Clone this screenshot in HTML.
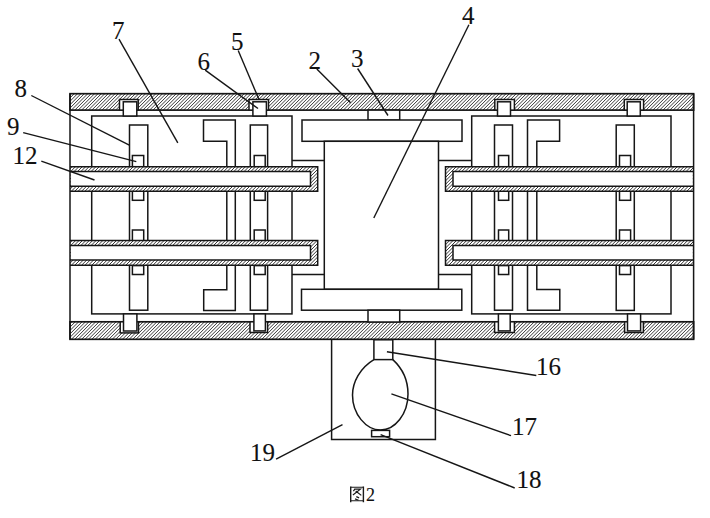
<!DOCTYPE html>
<html><head><meta charset="utf-8">
<style>
html,body{margin:0;padding:0;background:#fff;width:710px;height:518px;overflow:hidden}
svg{display:block}
text{font-family:"Liberation Serif",serif;fill:#111;stroke:#111;stroke-width:0.1px}
</style></head>
<body>
<svg width="710" height="518" viewBox="0 0 710 518">
<defs>
<clipPath id="cw"><rect x="70" y="93.7" width="623.6" height="16.4"/><rect x="70" y="321.8" width="623.6" height="17.5"/></clipPath>
<clipPath id="cp"><rect x="70" y="166.7" width="247.7" height="24.50"/><rect x="445.5" y="166.7" width="247.5" height="24.50"/><rect x="70" y="240.4" width="247.7" height="24.80"/><rect x="445.5" y="240.4" width="247.5" height="24.80"/></clipPath></defs><rect width="710" height="518" fill="#fff"/><g clip-path="url(#cw)"><rect x="70" y="93" width="623" height="250" fill="#fff"/><path stroke="#151515" stroke-width="0.85" fill="none" d="M51.00 110.10L67.40 93.70M54.40 110.10L70.80 93.70M57.80 110.10L74.20 93.70M61.20 110.10L77.60 93.70M64.60 110.10L81.00 93.70M68.00 110.10L84.40 93.70M71.40 110.10L87.80 93.70M74.80 110.10L91.20 93.70M78.20 110.10L94.60 93.70M81.60 110.10L98.00 93.70M85.00 110.10L101.40 93.70M88.40 110.10L104.80 93.70M91.80 110.10L108.20 93.70M95.20 110.10L111.60 93.70M98.60 110.10L115.00 93.70M102.00 110.10L118.40 93.70M105.40 110.10L121.80 93.70M108.80 110.10L125.20 93.70M112.20 110.10L128.60 93.70M115.60 110.10L132.00 93.70M119.00 110.10L135.40 93.70M122.40 110.10L138.80 93.70M125.80 110.10L142.20 93.70M129.20 110.10L145.60 93.70M132.60 110.10L149.00 93.70M136.00 110.10L152.40 93.70M139.40 110.10L155.80 93.70M142.80 110.10L159.20 93.70M146.20 110.10L162.60 93.70M149.60 110.10L166.00 93.70M153.00 110.10L169.40 93.70M156.40 110.10L172.80 93.70M159.80 110.10L176.20 93.70M163.20 110.10L179.60 93.70M166.60 110.10L183.00 93.70M170.00 110.10L186.40 93.70M173.40 110.10L189.80 93.70M176.80 110.10L193.20 93.70M180.20 110.10L196.60 93.70M183.60 110.10L200.00 93.70M187.00 110.10L203.40 93.70M190.40 110.10L206.80 93.70M193.80 110.10L210.20 93.70M197.20 110.10L213.60 93.70M200.60 110.10L217.00 93.70M204.00 110.10L220.40 93.70M207.40 110.10L223.80 93.70M210.80 110.10L227.20 93.70M214.20 110.10L230.60 93.70M217.60 110.10L234.00 93.70M221.00 110.10L237.40 93.70M224.40 110.10L240.80 93.70M227.80 110.10L244.20 93.70M231.20 110.10L247.60 93.70M234.60 110.10L251.00 93.70M238.00 110.10L254.40 93.70M241.40 110.10L257.80 93.70M244.80 110.10L261.20 93.70M248.20 110.10L264.60 93.70M251.60 110.10L268.00 93.70M255.00 110.10L271.40 93.70M258.40 110.10L274.80 93.70M261.80 110.10L278.20 93.70M265.20 110.10L281.60 93.70M268.60 110.10L285.00 93.70M272.00 110.10L288.40 93.70M275.40 110.10L291.80 93.70M278.80 110.10L295.20 93.70M282.20 110.10L298.60 93.70M285.60 110.10L302.00 93.70M289.00 110.10L305.40 93.70M292.40 110.10L308.80 93.70M295.80 110.10L312.20 93.70M299.20 110.10L315.60 93.70M302.60 110.10L319.00 93.70M306.00 110.10L322.40 93.70M309.40 110.10L325.80 93.70M312.80 110.10L329.20 93.70M316.20 110.10L332.60 93.70M319.60 110.10L336.00 93.70M323.00 110.10L339.40 93.70M326.40 110.10L342.80 93.70M329.80 110.10L346.20 93.70M333.20 110.10L349.60 93.70M336.60 110.10L353.00 93.70M340.00 110.10L356.40 93.70M343.40 110.10L359.80 93.70M346.80 110.10L363.20 93.70M350.20 110.10L366.60 93.70M353.60 110.10L370.00 93.70M357.00 110.10L373.40 93.70M360.40 110.10L376.80 93.70M363.80 110.10L380.20 93.70M367.20 110.10L383.60 93.70M370.60 110.10L387.00 93.70M374.00 110.10L390.40 93.70M377.40 110.10L393.80 93.70M380.80 110.10L397.20 93.70M384.20 110.10L400.60 93.70M387.60 110.10L404.00 93.70M391.00 110.10L407.40 93.70M394.40 110.10L410.80 93.70M397.80 110.10L414.20 93.70M401.20 110.10L417.60 93.70M404.60 110.10L421.00 93.70M408.00 110.10L424.40 93.70M411.40 110.10L427.80 93.70M414.80 110.10L431.20 93.70M418.20 110.10L434.60 93.70M421.60 110.10L438.00 93.70M425.00 110.10L441.40 93.70M428.40 110.10L444.80 93.70M431.80 110.10L448.20 93.70M435.20 110.10L451.60 93.70M438.60 110.10L455.00 93.70M442.00 110.10L458.40 93.70M445.40 110.10L461.80 93.70M448.80 110.10L465.20 93.70M452.20 110.10L468.60 93.70M455.60 110.10L472.00 93.70M459.00 110.10L475.40 93.70M462.40 110.10L478.80 93.70M465.80 110.10L482.20 93.70M469.20 110.10L485.60 93.70M472.60 110.10L489.00 93.70M476.00 110.10L492.40 93.70M479.40 110.10L495.80 93.70M482.80 110.10L499.20 93.70M486.20 110.10L502.60 93.70M489.60 110.10L506.00 93.70M493.00 110.10L509.40 93.70M496.40 110.10L512.80 93.70M499.80 110.10L516.20 93.70M503.20 110.10L519.60 93.70M506.60 110.10L523.00 93.70M510.00 110.10L526.40 93.70M513.40 110.10L529.80 93.70M516.80 110.10L533.20 93.70M520.20 110.10L536.60 93.70M523.60 110.10L540.00 93.70M527.00 110.10L543.40 93.70M530.40 110.10L546.80 93.70M533.80 110.10L550.20 93.70M537.20 110.10L553.60 93.70M540.60 110.10L557.00 93.70M544.00 110.10L560.40 93.70M547.40 110.10L563.80 93.70M550.80 110.10L567.20 93.70M554.20 110.10L570.60 93.70M557.60 110.10L574.00 93.70M561.00 110.10L577.40 93.70M564.40 110.10L580.80 93.70M567.80 110.10L584.20 93.70M571.20 110.10L587.60 93.70M574.60 110.10L591.00 93.70M578.00 110.10L594.40 93.70M581.40 110.10L597.80 93.70M584.80 110.10L601.20 93.70M588.20 110.10L604.60 93.70M591.60 110.10L608.00 93.70M595.00 110.10L611.40 93.70M598.40 110.10L614.80 93.70M601.80 110.10L618.20 93.70M605.20 110.10L621.60 93.70M608.60 110.10L625.00 93.70M612.00 110.10L628.40 93.70M615.40 110.10L631.80 93.70M618.80 110.10L635.20 93.70M622.20 110.10L638.60 93.70M625.60 110.10L642.00 93.70M629.00 110.10L645.40 93.70M632.40 110.10L648.80 93.70M635.80 110.10L652.20 93.70M639.20 110.10L655.60 93.70M642.60 110.10L659.00 93.70M646.00 110.10L662.40 93.70M649.40 110.10L665.80 93.70M652.80 110.10L669.20 93.70M656.20 110.10L672.60 93.70M659.60 110.10L676.00 93.70M663.00 110.10L679.40 93.70M666.40 110.10L682.80 93.70M669.80 110.10L686.20 93.70M673.20 110.10L689.60 93.70M676.60 110.10L693.00 93.70M680.00 110.10L696.40 93.70M683.40 110.10L699.80 93.70M686.80 110.10L703.20 93.70M690.20 110.10L706.60 93.70M693.60 110.10L710.00 93.70M51.00 339.30L68.50 321.80M54.40 339.30L71.90 321.80M57.80 339.30L75.30 321.80M61.20 339.30L78.70 321.80M64.60 339.30L82.10 321.80M68.00 339.30L85.50 321.80M71.40 339.30L88.90 321.80M74.80 339.30L92.30 321.80M78.20 339.30L95.70 321.80M81.60 339.30L99.10 321.80M85.00 339.30L102.50 321.80M88.40 339.30L105.90 321.80M91.80 339.30L109.30 321.80M95.20 339.30L112.70 321.80M98.60 339.30L116.10 321.80M102.00 339.30L119.50 321.80M105.40 339.30L122.90 321.80M108.80 339.30L126.30 321.80M112.20 339.30L129.70 321.80M115.60 339.30L133.10 321.80M119.00 339.30L136.50 321.80M122.40 339.30L139.90 321.80M125.80 339.30L143.30 321.80M129.20 339.30L146.70 321.80M132.60 339.30L150.10 321.80M136.00 339.30L153.50 321.80M139.40 339.30L156.90 321.80M142.80 339.30L160.30 321.80M146.20 339.30L163.70 321.80M149.60 339.30L167.10 321.80M153.00 339.30L170.50 321.80M156.40 339.30L173.90 321.80M159.80 339.30L177.30 321.80M163.20 339.30L180.70 321.80M166.60 339.30L184.10 321.80M170.00 339.30L187.50 321.80M173.40 339.30L190.90 321.80M176.80 339.30L194.30 321.80M180.20 339.30L197.70 321.80M183.60 339.30L201.10 321.80M187.00 339.30L204.50 321.80M190.40 339.30L207.90 321.80M193.80 339.30L211.30 321.80M197.20 339.30L214.70 321.80M200.60 339.30L218.10 321.80M204.00 339.30L221.50 321.80M207.40 339.30L224.90 321.80M210.80 339.30L228.30 321.80M214.20 339.30L231.70 321.80M217.60 339.30L235.10 321.80M221.00 339.30L238.50 321.80M224.40 339.30L241.90 321.80M227.80 339.30L245.30 321.80M231.20 339.30L248.70 321.80M234.60 339.30L252.10 321.80M238.00 339.30L255.50 321.80M241.40 339.30L258.90 321.80M244.80 339.30L262.30 321.80M248.20 339.30L265.70 321.80M251.60 339.30L269.10 321.80M255.00 339.30L272.50 321.80M258.40 339.30L275.90 321.80M261.80 339.30L279.30 321.80M265.20 339.30L282.70 321.80M268.60 339.30L286.10 321.80M272.00 339.30L289.50 321.80M275.40 339.30L292.90 321.80M278.80 339.30L296.30 321.80M282.20 339.30L299.70 321.80M285.60 339.30L303.10 321.80M289.00 339.30L306.50 321.80M292.40 339.30L309.90 321.80M295.80 339.30L313.30 321.80M299.20 339.30L316.70 321.80M302.60 339.30L320.10 321.80M306.00 339.30L323.50 321.80M309.40 339.30L326.90 321.80M312.80 339.30L330.30 321.80M316.20 339.30L333.70 321.80M319.60 339.30L337.10 321.80M323.00 339.30L340.50 321.80M326.40 339.30L343.90 321.80M329.80 339.30L347.30 321.80M333.20 339.30L350.70 321.80M336.60 339.30L354.10 321.80M340.00 339.30L357.50 321.80M343.40 339.30L360.90 321.80M346.80 339.30L364.30 321.80M350.20 339.30L367.70 321.80M353.60 339.30L371.10 321.80M357.00 339.30L374.50 321.80M360.40 339.30L377.90 321.80M363.80 339.30L381.30 321.80M367.20 339.30L384.70 321.80M370.60 339.30L388.10 321.80M374.00 339.30L391.50 321.80M377.40 339.30L394.90 321.80M380.80 339.30L398.30 321.80M384.20 339.30L401.70 321.80M387.60 339.30L405.10 321.80M391.00 339.30L408.50 321.80M394.40 339.30L411.90 321.80M397.80 339.30L415.30 321.80M401.20 339.30L418.70 321.80M404.60 339.30L422.10 321.80M408.00 339.30L425.50 321.80M411.40 339.30L428.90 321.80M414.80 339.30L432.30 321.80M418.20 339.30L435.70 321.80M421.60 339.30L439.10 321.80M425.00 339.30L442.50 321.80M428.40 339.30L445.90 321.80M431.80 339.30L449.30 321.80M435.20 339.30L452.70 321.80M438.60 339.30L456.10 321.80M442.00 339.30L459.50 321.80M445.40 339.30L462.90 321.80M448.80 339.30L466.30 321.80M452.20 339.30L469.70 321.80M455.60 339.30L473.10 321.80M459.00 339.30L476.50 321.80M462.40 339.30L479.90 321.80M465.80 339.30L483.30 321.80M469.20 339.30L486.70 321.80M472.60 339.30L490.10 321.80M476.00 339.30L493.50 321.80M479.40 339.30L496.90 321.80M482.80 339.30L500.30 321.80M486.20 339.30L503.70 321.80M489.60 339.30L507.10 321.80M493.00 339.30L510.50 321.80M496.40 339.30L513.90 321.80M499.80 339.30L517.30 321.80M503.20 339.30L520.70 321.80M506.60 339.30L524.10 321.80M510.00 339.30L527.50 321.80M513.40 339.30L530.90 321.80M516.80 339.30L534.30 321.80M520.20 339.30L537.70 321.80M523.60 339.30L541.10 321.80M527.00 339.30L544.50 321.80M530.40 339.30L547.90 321.80M533.80 339.30L551.30 321.80M537.20 339.30L554.70 321.80M540.60 339.30L558.10 321.80M544.00 339.30L561.50 321.80M547.40 339.30L564.90 321.80M550.80 339.30L568.30 321.80M554.20 339.30L571.70 321.80M557.60 339.30L575.10 321.80M561.00 339.30L578.50 321.80M564.40 339.30L581.90 321.80M567.80 339.30L585.30 321.80M571.20 339.30L588.70 321.80M574.60 339.30L592.10 321.80M578.00 339.30L595.50 321.80M581.40 339.30L598.90 321.80M584.80 339.30L602.30 321.80M588.20 339.30L605.70 321.80M591.60 339.30L609.10 321.80M595.00 339.30L612.50 321.80M598.40 339.30L615.90 321.80M601.80 339.30L619.30 321.80M605.20 339.30L622.70 321.80M608.60 339.30L626.10 321.80M612.00 339.30L629.50 321.80M615.40 339.30L632.90 321.80M618.80 339.30L636.30 321.80M622.20 339.30L639.70 321.80M625.60 339.30L643.10 321.80M629.00 339.30L646.50 321.80M632.40 339.30L649.90 321.80M635.80 339.30L653.30 321.80M639.20 339.30L656.70 321.80M642.60 339.30L660.10 321.80M646.00 339.30L663.50 321.80M649.40 339.30L666.90 321.80M652.80 339.30L670.30 321.80M656.20 339.30L673.70 321.80M659.60 339.30L677.10 321.80M663.00 339.30L680.50 321.80M666.40 339.30L683.90 321.80M669.80 339.30L687.30 321.80M673.20 339.30L690.70 321.80M676.60 339.30L694.10 321.80M680.00 339.30L697.50 321.80M683.40 339.30L700.90 321.80M686.80 339.30L704.30 321.80M690.20 339.30L707.70 321.80M693.60 339.30L711.10 321.80"/></g><g fill="#fff" stroke="#161616" stroke-width="1.5"><rect x="70" y="93.7" width="623.6" height="16.4" fill="none" stroke-width="1.7"/>
<rect x="70" y="321.8" width="623.6" height="17.5" fill="none" stroke-width="1.7"/>
<rect x="91.7" y="116" width="200.3" height="197.9"/>
<rect x="471.7" y="116" width="199.3" height="197.9"/>
<line x1="292" y1="160.6" x2="324.3" y2="160.6"/>
<line x1="292" y1="274.6" x2="324.3" y2="274.6"/>
<line x1="438.5" y1="160.6" x2="471.7" y2="160.6"/>
<line x1="438.5" y1="274.4" x2="471.7" y2="274.4"/>
<rect x="368" y="110.1" width="31.7" height="10"/>
<rect x="302" y="120" width="160" height="21.3"/>
<rect x="324.3" y="141.3" width="114.2" height="148"/>
<rect x="301.5" y="289.3" width="160.3" height="20.9"/>
<rect x="368" y="310.2" width="31.7" height="11.8"/>
<polygon points="203.5,120 235.3,120 235.3,310.5 203.7,310.5 203.7,289.8 226.8,289.8 226.8,141.3 203.5,141.3"/>
<polygon points="527.5,120 559.6,120 559.6,141.3 536.8,141.3 536.8,289.5 559.8,289.5 559.8,310.2 527.5,310.2"/>
<rect x="129.5" y="125" width="18.3" height="185.2"/>
<rect x="250.3" y="125" width="17.3" height="185.2"/>
<rect x="494.5" y="125" width="18" height="185.2"/>
<rect x="616.2" y="125" width="18.1" height="185.4"/>
<rect x="132.4" y="155.5" width="11.3" height="11.2"/><rect x="132.4" y="191.2" width="11.3" height="9.1"/><rect x="132.4" y="230" width="11.3" height="10.8"/><rect x="132.4" y="265.6" width="11.3" height="8.9"/><rect x="254.2" y="155.5" width="11" height="11.2"/><rect x="254.2" y="191.2" width="11" height="9.1"/><rect x="254.2" y="230" width="11" height="10.8"/><rect x="254.2" y="265.6" width="11" height="8.9"/><rect x="498.5" y="155.5" width="10.2" height="11.2"/><rect x="498.5" y="191.2" width="10.2" height="9.1"/><rect x="498.5" y="230" width="10.2" height="10.8"/><rect x="498.5" y="265.6" width="10.2" height="8.9"/><rect x="619.5" y="155.5" width="11.1" height="11.2"/><rect x="619.5" y="191.2" width="11.1" height="9.1"/><rect x="619.5" y="230" width="11.1" height="10.8"/><rect x="619.5" y="265.6" width="11.1" height="8.9"/></g><g clip-path="url(#cp)"><rect x="70" y="160" width="623" height="110" fill="#fff"/><path stroke="#151515" stroke-width="0.85" fill="none" d="M44.20 191.20L68.70 166.70M47.60 191.20L72.10 166.70M51.00 191.20L75.50 166.70M54.40 191.20L78.90 166.70M57.80 191.20L82.30 166.70M61.20 191.20L85.70 166.70M64.60 191.20L89.10 166.70M68.00 191.20L92.50 166.70M71.40 191.20L95.90 166.70M74.80 191.20L99.30 166.70M78.20 191.20L102.70 166.70M81.60 191.20L106.10 166.70M85.00 191.20L109.50 166.70M88.40 191.20L112.90 166.70M91.80 191.20L116.30 166.70M95.20 191.20L119.70 166.70M98.60 191.20L123.10 166.70M102.00 191.20L126.50 166.70M105.40 191.20L129.90 166.70M108.80 191.20L133.30 166.70M112.20 191.20L136.70 166.70M115.60 191.20L140.10 166.70M119.00 191.20L143.50 166.70M122.40 191.20L146.90 166.70M125.80 191.20L150.30 166.70M129.20 191.20L153.70 166.70M132.60 191.20L157.10 166.70M136.00 191.20L160.50 166.70M139.40 191.20L163.90 166.70M142.80 191.20L167.30 166.70M146.20 191.20L170.70 166.70M149.60 191.20L174.10 166.70M153.00 191.20L177.50 166.70M156.40 191.20L180.90 166.70M159.80 191.20L184.30 166.70M163.20 191.20L187.70 166.70M166.60 191.20L191.10 166.70M170.00 191.20L194.50 166.70M173.40 191.20L197.90 166.70M176.80 191.20L201.30 166.70M180.20 191.20L204.70 166.70M183.60 191.20L208.10 166.70M187.00 191.20L211.50 166.70M190.40 191.20L214.90 166.70M193.80 191.20L218.30 166.70M197.20 191.20L221.70 166.70M200.60 191.20L225.10 166.70M204.00 191.20L228.50 166.70M207.40 191.20L231.90 166.70M210.80 191.20L235.30 166.70M214.20 191.20L238.70 166.70M217.60 191.20L242.10 166.70M221.00 191.20L245.50 166.70M224.40 191.20L248.90 166.70M227.80 191.20L252.30 166.70M231.20 191.20L255.70 166.70M234.60 191.20L259.10 166.70M238.00 191.20L262.50 166.70M241.40 191.20L265.90 166.70M244.80 191.20L269.30 166.70M248.20 191.20L272.70 166.70M251.60 191.20L276.10 166.70M255.00 191.20L279.50 166.70M258.40 191.20L282.90 166.70M261.80 191.20L286.30 166.70M265.20 191.20L289.70 166.70M268.60 191.20L293.10 166.70M272.00 191.20L296.50 166.70M275.40 191.20L299.90 166.70M278.80 191.20L303.30 166.70M282.20 191.20L306.70 166.70M285.60 191.20L310.10 166.70M289.00 191.20L313.50 166.70M292.40 191.20L316.90 166.70M295.80 191.20L320.30 166.70M299.20 191.20L323.70 166.70M302.60 191.20L327.10 166.70M306.00 191.20L330.50 166.70M309.40 191.20L333.90 166.70M312.80 191.20L337.30 166.70M316.20 191.20L340.70 166.70M418.20 191.20L442.70 166.70M421.60 191.20L446.10 166.70M425.00 191.20L449.50 166.70M428.40 191.20L452.90 166.70M431.80 191.20L456.30 166.70M435.20 191.20L459.70 166.70M438.60 191.20L463.10 166.70M442.00 191.20L466.50 166.70M445.40 191.20L469.90 166.70M448.80 191.20L473.30 166.70M452.20 191.20L476.70 166.70M455.60 191.20L480.10 166.70M459.00 191.20L483.50 166.70M462.40 191.20L486.90 166.70M465.80 191.20L490.30 166.70M469.20 191.20L493.70 166.70M472.60 191.20L497.10 166.70M476.00 191.20L500.50 166.70M479.40 191.20L503.90 166.70M482.80 191.20L507.30 166.70M486.20 191.20L510.70 166.70M489.60 191.20L514.10 166.70M493.00 191.20L517.50 166.70M496.40 191.20L520.90 166.70M499.80 191.20L524.30 166.70M503.20 191.20L527.70 166.70M506.60 191.20L531.10 166.70M510.00 191.20L534.50 166.70M513.40 191.20L537.90 166.70M516.80 191.20L541.30 166.70M520.20 191.20L544.70 166.70M523.60 191.20L548.10 166.70M527.00 191.20L551.50 166.70M530.40 191.20L554.90 166.70M533.80 191.20L558.30 166.70M537.20 191.20L561.70 166.70M540.60 191.20L565.10 166.70M544.00 191.20L568.50 166.70M547.40 191.20L571.90 166.70M550.80 191.20L575.30 166.70M554.20 191.20L578.70 166.70M557.60 191.20L582.10 166.70M561.00 191.20L585.50 166.70M564.40 191.20L588.90 166.70M567.80 191.20L592.30 166.70M571.20 191.20L595.70 166.70M574.60 191.20L599.10 166.70M578.00 191.20L602.50 166.70M581.40 191.20L605.90 166.70M584.80 191.20L609.30 166.70M588.20 191.20L612.70 166.70M591.60 191.20L616.10 166.70M595.00 191.20L619.50 166.70M598.40 191.20L622.90 166.70M601.80 191.20L626.30 166.70M605.20 191.20L629.70 166.70M608.60 191.20L633.10 166.70M612.00 191.20L636.50 166.70M615.40 191.20L639.90 166.70M618.80 191.20L643.30 166.70M622.20 191.20L646.70 166.70M625.60 191.20L650.10 166.70M629.00 191.20L653.50 166.70M632.40 191.20L656.90 166.70M635.80 191.20L660.30 166.70M639.20 191.20L663.70 166.70M642.60 191.20L667.10 166.70M646.00 191.20L670.50 166.70M649.40 191.20L673.90 166.70M652.80 191.20L677.30 166.70M656.20 191.20L680.70 166.70M659.60 191.20L684.10 166.70M663.00 191.20L687.50 166.70M666.40 191.20L690.90 166.70M669.80 191.20L694.30 166.70M673.20 191.20L697.70 166.70M676.60 191.20L701.10 166.70M680.00 191.20L704.50 166.70M683.40 191.20L707.90 166.70M686.80 191.20L711.30 166.70M690.20 191.20L714.70 166.70M44.20 265.20L69.00 240.40M47.60 265.20L72.40 240.40M51.00 265.20L75.80 240.40M54.40 265.20L79.20 240.40M57.80 265.20L82.60 240.40M61.20 265.20L86.00 240.40M64.60 265.20L89.40 240.40M68.00 265.20L92.80 240.40M71.40 265.20L96.20 240.40M74.80 265.20L99.60 240.40M78.20 265.20L103.00 240.40M81.60 265.20L106.40 240.40M85.00 265.20L109.80 240.40M88.40 265.20L113.20 240.40M91.80 265.20L116.60 240.40M95.20 265.20L120.00 240.40M98.60 265.20L123.40 240.40M102.00 265.20L126.80 240.40M105.40 265.20L130.20 240.40M108.80 265.20L133.60 240.40M112.20 265.20L137.00 240.40M115.60 265.20L140.40 240.40M119.00 265.20L143.80 240.40M122.40 265.20L147.20 240.40M125.80 265.20L150.60 240.40M129.20 265.20L154.00 240.40M132.60 265.20L157.40 240.40M136.00 265.20L160.80 240.40M139.40 265.20L164.20 240.40M142.80 265.20L167.60 240.40M146.20 265.20L171.00 240.40M149.60 265.20L174.40 240.40M153.00 265.20L177.80 240.40M156.40 265.20L181.20 240.40M159.80 265.20L184.60 240.40M163.20 265.20L188.00 240.40M166.60 265.20L191.40 240.40M170.00 265.20L194.80 240.40M173.40 265.20L198.20 240.40M176.80 265.20L201.60 240.40M180.20 265.20L205.00 240.40M183.60 265.20L208.40 240.40M187.00 265.20L211.80 240.40M190.40 265.20L215.20 240.40M193.80 265.20L218.60 240.40M197.20 265.20L222.00 240.40M200.60 265.20L225.40 240.40M204.00 265.20L228.80 240.40M207.40 265.20L232.20 240.40M210.80 265.20L235.60 240.40M214.20 265.20L239.00 240.40M217.60 265.20L242.40 240.40M221.00 265.20L245.80 240.40M224.40 265.20L249.20 240.40M227.80 265.20L252.60 240.40M231.20 265.20L256.00 240.40M234.60 265.20L259.40 240.40M238.00 265.20L262.80 240.40M241.40 265.20L266.20 240.40M244.80 265.20L269.60 240.40M248.20 265.20L273.00 240.40M251.60 265.20L276.40 240.40M255.00 265.20L279.80 240.40M258.40 265.20L283.20 240.40M261.80 265.20L286.60 240.40M265.20 265.20L290.00 240.40M268.60 265.20L293.40 240.40M272.00 265.20L296.80 240.40M275.40 265.20L300.20 240.40M278.80 265.20L303.60 240.40M282.20 265.20L307.00 240.40M285.60 265.20L310.40 240.40M289.00 265.20L313.80 240.40M292.40 265.20L317.20 240.40M295.80 265.20L320.60 240.40M299.20 265.20L324.00 240.40M302.60 265.20L327.40 240.40M306.00 265.20L330.80 240.40M309.40 265.20L334.20 240.40M312.80 265.20L337.60 240.40M316.20 265.20L341.00 240.40M418.20 265.20L443.00 240.40M421.60 265.20L446.40 240.40M425.00 265.20L449.80 240.40M428.40 265.20L453.20 240.40M431.80 265.20L456.60 240.40M435.20 265.20L460.00 240.40M438.60 265.20L463.40 240.40M442.00 265.20L466.80 240.40M445.40 265.20L470.20 240.40M448.80 265.20L473.60 240.40M452.20 265.20L477.00 240.40M455.60 265.20L480.40 240.40M459.00 265.20L483.80 240.40M462.40 265.20L487.20 240.40M465.80 265.20L490.60 240.40M469.20 265.20L494.00 240.40M472.60 265.20L497.40 240.40M476.00 265.20L500.80 240.40M479.40 265.20L504.20 240.40M482.80 265.20L507.60 240.40M486.20 265.20L511.00 240.40M489.60 265.20L514.40 240.40M493.00 265.20L517.80 240.40M496.40 265.20L521.20 240.40M499.80 265.20L524.60 240.40M503.20 265.20L528.00 240.40M506.60 265.20L531.40 240.40M510.00 265.20L534.80 240.40M513.40 265.20L538.20 240.40M516.80 265.20L541.60 240.40M520.20 265.20L545.00 240.40M523.60 265.20L548.40 240.40M527.00 265.20L551.80 240.40M530.40 265.20L555.20 240.40M533.80 265.20L558.60 240.40M537.20 265.20L562.00 240.40M540.60 265.20L565.40 240.40M544.00 265.20L568.80 240.40M547.40 265.20L572.20 240.40M550.80 265.20L575.60 240.40M554.20 265.20L579.00 240.40M557.60 265.20L582.40 240.40M561.00 265.20L585.80 240.40M564.40 265.20L589.20 240.40M567.80 265.20L592.60 240.40M571.20 265.20L596.00 240.40M574.60 265.20L599.40 240.40M578.00 265.20L602.80 240.40M581.40 265.20L606.20 240.40M584.80 265.20L609.60 240.40M588.20 265.20L613.00 240.40M591.60 265.20L616.40 240.40M595.00 265.20L619.80 240.40M598.40 265.20L623.20 240.40M601.80 265.20L626.60 240.40M605.20 265.20L630.00 240.40M608.60 265.20L633.40 240.40M612.00 265.20L636.80 240.40M615.40 265.20L640.20 240.40M618.80 265.20L643.60 240.40M622.20 265.20L647.00 240.40M625.60 265.20L650.40 240.40M629.00 265.20L653.80 240.40M632.40 265.20L657.20 240.40M635.80 265.20L660.60 240.40M639.20 265.20L664.00 240.40M642.60 265.20L667.40 240.40M646.00 265.20L670.80 240.40M649.40 265.20L674.20 240.40M652.80 265.20L677.60 240.40M656.20 265.20L681.00 240.40M659.60 265.20L684.40 240.40M663.00 265.20L687.80 240.40M666.40 265.20L691.20 240.40M669.80 265.20L694.60 240.40M673.20 265.20L698.00 240.40M676.60 265.20L701.40 240.40M680.00 265.20L704.80 240.40M683.40 265.20L708.20 240.40M686.80 265.20L711.60 240.40M690.20 265.20L715.00 240.40"/></g><g fill="#fff" stroke="#161616" stroke-width="1.5"><rect x="70.8" y="171.6" width="239.7" height="14.60" stroke="none"/><path fill="none" d="M70 171.6 H310.5 V186.2 H70"/><path fill="none" d="M70 166.7 H317.7 V191.2 H70"/><rect x="453" y="171.6" width="239.79999999999995" height="14.60" stroke="none"/><path fill="none" d="M693.6 171.6 H453 V186.2 H693.6"/><path fill="none" d="M693.6 166.7 H445.5 V191.2 H693.6"/><rect x="70.8" y="245.5" width="239.7" height="14.50" stroke="none"/><path fill="none" d="M70 245.5 H310.5 V260.0 H70"/><path fill="none" d="M70 240.4 H317.7 V265.2 H70"/><rect x="453" y="245.5" width="239.79999999999995" height="14.50" stroke="none"/><path fill="none" d="M693.6 245.5 H453 V260.0 H693.6"/><path fill="none" d="M693.6 240.4 H445.5 V265.2 H693.6"/>
<line x1="70" y1="93.7" x2="70" y2="339.3"/>
<line x1="693.6" y1="93.7" x2="693.6" y2="339.3"/>
<rect x="119.5" y="99.5" width="18.7" height="10.6"/>
<rect x="123.3" y="101.8" width="13.5" height="14.2"/>
<rect x="249" y="99.5" width="19.5" height="10.6"/>
<rect x="252.9" y="101.8" width="13.5" height="14.2"/>
<rect x="494.8" y="99.5" width="19.6" height="10.6"/>
<rect x="497.5" y="101.8" width="13" height="14.2"/>
<rect x="624.3" y="99.5" width="19.3" height="10.6"/>
<rect x="627.2" y="101.8" width="13.1" height="14.2"/>
<rect x="120.2" y="321.8" width="18.3" height="11.1"/>
<rect x="123.5" y="313.9" width="13.4" height="17.1"/>
<rect x="250" y="321.8" width="17.6" height="10.7"/>
<rect x="253.9" y="313.9" width="11.5" height="17"/>
<rect x="494.6" y="321.8" width="19.8" height="10.7"/>
<rect x="498.4" y="313.9" width="11.8" height="17"/>
<rect x="624.6" y="321.8" width="18.8" height="10.7"/>
<rect x="627.5" y="313.9" width="13.1" height="17"/>
<path fill="none" d="M331.6 339.8 V439.4 H435.4 V339.8"/>
<path fill="none" d="M373.9 359.6 C360 368 352.5 382 352.5 395 C352.5 414 366 430 380.5 430 C395 430 408 414 408 394 C408 380 402 368 392.8 359.6"/>
<rect x="373.9" y="339.8" width="18.9" height="19.8"/>
<rect x="371.6" y="430.4" width="18" height="6.3"/>
</g>
<g stroke="#161616" stroke-width="1.4" fill="none">
<line x1="31.3" y1="95.5" x2="129.3" y2="145.2"/>
<line x1="23.2" y1="132.6" x2="136.3" y2="161.6"/>
<line x1="41.3" y1="161.2" x2="94.5" y2="180"/>
<line x1="119" y1="39.2" x2="177.8" y2="142.9"/>
<line x1="205.2" y1="70.1" x2="258" y2="108.5"/>
<line x1="238.2" y1="50.6" x2="259" y2="99.5"/>
<line x1="316.8" y1="69" x2="350.6" y2="102.8"/>
<line x1="357.6" y1="68.5" x2="388" y2="115.5"/>
<line x1="468.9" y1="24.8" x2="373.8" y2="218"/>
<line x1="386.9" y1="351.8" x2="536.3" y2="375.5"/>
<line x1="391.4" y1="393.9" x2="511" y2="435.7"/>
<line x1="380.6" y1="434.6" x2="514.7" y2="488"/>
<line x1="276.1" y1="459.1" x2="342.5" y2="424.6"/>
</g>
<g font-size="25" transform="translate(0,-0.5)">
<text x="14.5" y="97.4">8</text>
<text x="7" y="135">9</text>
<text x="12.5" y="164">12</text>
<text x="112" y="39.2">7</text>
<text x="197.5" y="70.1">6</text>
<text x="231" y="50.1">5</text>
<text x="308.5" y="69">2</text>
<text x="351" y="67.6">3</text>
<text x="462" y="24">4</text>
<text x="536" y="375.5">16</text>
<text x="512" y="435.7">17</text>
<text x="516.5" y="488.1">18</text>
<text x="250" y="461.4">19</text>
</g>
<g stroke="#1a1a1a" stroke-width="1.2" fill="none">
<path d="M350.7 486.6 V502.3 M363.4 486.6 V502.3" stroke-width="1.4"/>
<path d="M350.7 487.3 H363.4 M350.7 500.7 H363.4" stroke-width="1.1"/>
<path d="M355.2 488.6 L353.4 491.2 M354.9 489.1 H360.4 L352.9 495 M355.7 491 L361.3 495.4 M356.3 496.6 L359.1 497.9 M355 498.9 L358.5 500.3"/>
</g>
<text x="366" y="500.9" font-size="18">2</text>
</svg>
</body></html>
